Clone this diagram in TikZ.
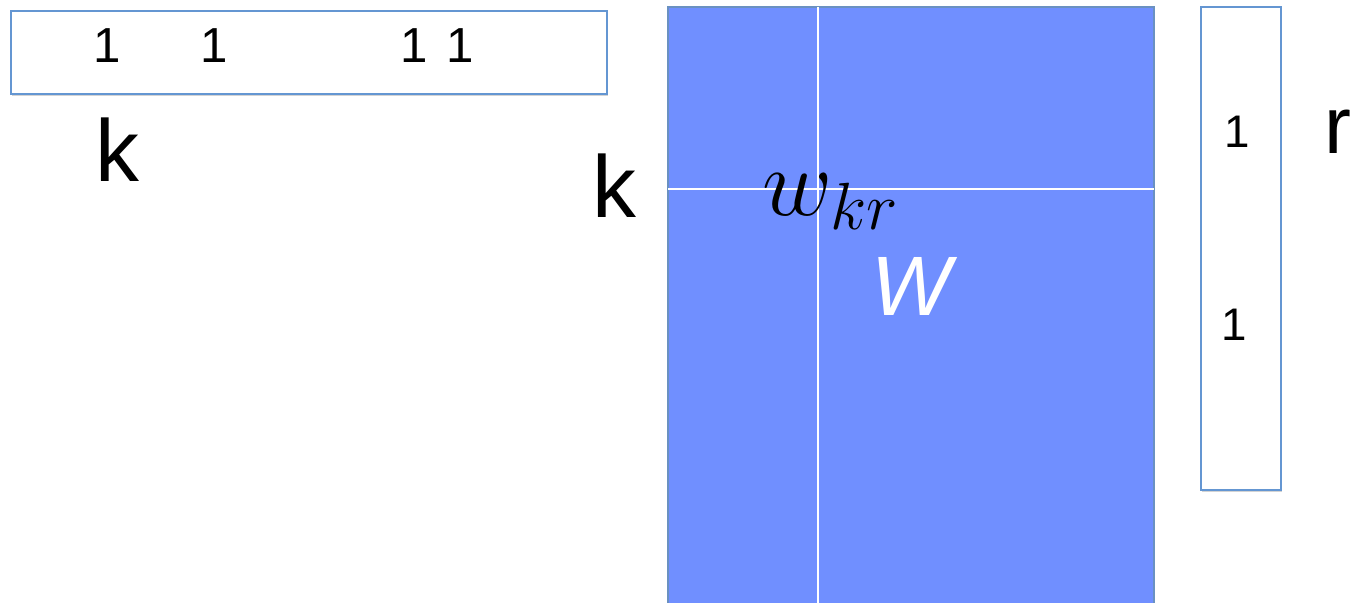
\RequirePackage{fix-cm}
\documentclass[tikz,border=0pt]{standalone}
\usepackage{fontspec}
\setmainfont{Liberation Sans}
\usetikzlibrary{shadows}
\definecolor{boxline}{RGB}{100,150,210}
\definecolor{matfill}{RGB}{112,143,255}
\tikzset{
  vecbox/.style={draw=boxline, line width=0.8pt, fill=white,
    drop shadow={opacity=0.35, shadow xshift=0.6pt, shadow yshift=-1.2pt}},
  matbox/.style={draw=boxline!80!gray, line width=0.6pt, fill=matfill,
    drop shadow={opacity=0.25, shadow xshift=0.6pt, shadow yshift=-1.2pt}},
  gridline/.style={draw=white, line width=1.2pt},
  entry/.style={inner sep=0pt, font=\fontsize{28}{30}\selectfont},
  bigletter/.style={inner sep=0pt, font=\fontsize{50}{54}\selectfont}
}
\begin{document}
\begin{tikzpicture}[x=0.02cm, y=-0.02cm]
  \useasboundingbox (0,0) rectangle (1351,602);
  \clip (0,0) rectangle (1351,602);

  % row vector for k
  \draw[vecbox] (11,11) rectangle (607,94);
  \node[entry] (rowA) at (107,46) {1};
  \node[entry] (rowB) at (214,46) {1};
  \node[entry] (rowC) at (414,46) {1};
  \node[entry] (rowD) at (460,46) {1};
  \node[bigletter] (rowlab) at (117,150) {k};

  % weight matrix W
  \draw[matbox] (668,7) rectangle (1154,640);
  \coordinate (colTop) at (818,7);
  \coordinate (colBot) at (818,640);
  \coordinate (rowL) at (668,189);
  \coordinate (rowR) at (1154,189);
  \draw[gridline] (colTop) -- (colBot);
  \draw[gridline] (rowL) -- (rowR);
  \node[bigletter] (matk) at (614,186) {k};
  \node[inner sep=0pt, anchor=base west, font=\fontsize{55}{60}\selectfont]
    (wkr) at (762,215) {$w_{\mbox{\fontsize{38}{40}\selectfont$kr$}}$};
  \node[inner sep=0pt, text=white, font=\fontsize{48}{52}\selectfont\itshape]
    (Wlab) at (911,286) {W};

  % column vector for r
  \draw[vecbox] (1201,7) rectangle (1281,490);
  \node[entry, font=\fontsize{26}{28}\selectfont] (colA) at (1237,132) {1};
  \node[entry, font=\fontsize{26}{28}\selectfont] (colB) at (1234,325) {1};
  \node[bigletter, anchor=base west, font=\fontsize{46}{50}\selectfont]
    (collab) at (1324,153) {r};
\end{tikzpicture}
\end{document}
